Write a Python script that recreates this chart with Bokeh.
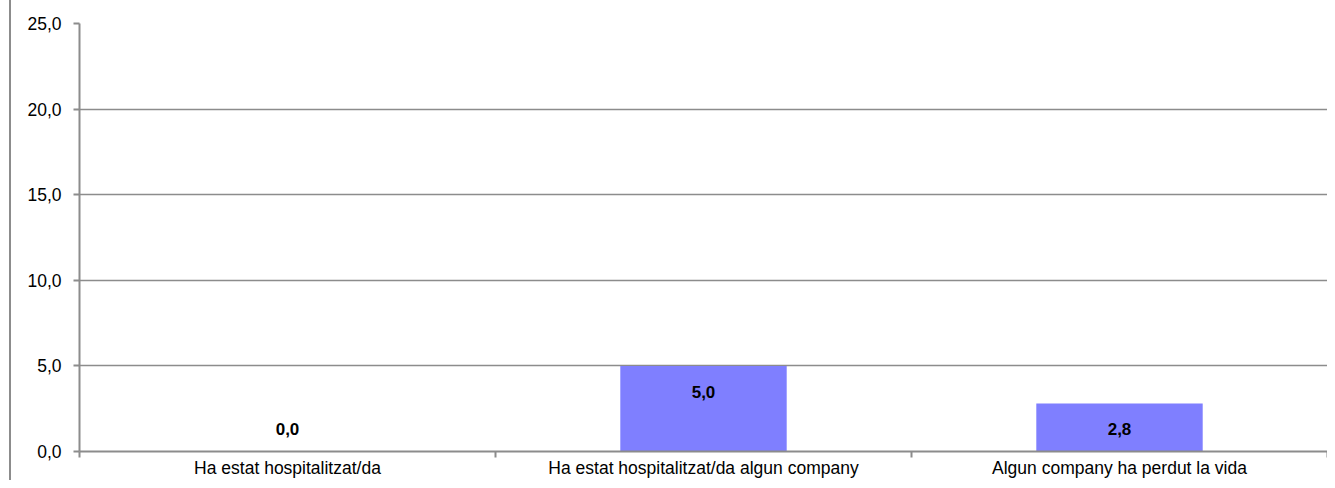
from bokeh.plotting import figure
from bokeh.models import FixedTicker, Range1d, ColumnDataSource
from bokeh.core.properties import value
from bokeh.embed import file_html
from bokeh.resources import INLINE

categories = ["Ha estat hospitalitzat/da",
              "Ha estat hospitalitzat/da algun company",
              "Algun company ha perdut la vida"]
values = [0.0, 5.0, 2.8]
value_labels = ["0,0", "5,0", "2,8"]
y_ticks = [0, 5, 10, 15, 20, 25]
y_tick_labels = ["0,0", "5,0", "10,0", "15,0", "20,0", "25,0"]

FONT = "Liberation Sans"
GRAY = "#8c8c8c"
BAR = "#7f7fff"

x_pos = [i + 0.5 for i in range(len(categories))]
label_y = [max(v, 2.8) - 1.5 for v in values]
src = ColumnDataSource(dict(x=x_pos, top=values, ly=label_y, lab=value_labels))

p = figure(width=1327, height=480, output_backend="svg", toolbar_location=None,
           x_range=Range1d(0, len(categories)), y_range=Range1d(0, 25),
           min_border_left=79, min_border_right=0, min_border_top=23, min_border_bottom=27)
p.outline_line_color = None
p.border_fill_color = None
p.background_fill_color = "white"
p.styles = {"background": "linear-gradient(to right, white 9px, #8c8c8c 9px, #8c8c8c 11px, white 11px)"}

p.vbar(x="x", top="top", width=0.4, bottom=0, source=src, fill_color=BAR, line_color=None)
p.text(x="x", y="ly", text="lab", source=src, text_align="center", text_baseline="middle",
       text_font=value(FONT), text_font_size="17px", text_font_style="bold", text_color="black")

# y axis
ya = p.yaxis[0]
ya.ticker = FixedTicker(ticks=y_ticks, minor_ticks=[])
ya.major_label_overrides = {t: l for t, l in zip(y_ticks, y_tick_labels)}
ya.major_label_text_font = FONT
ya.major_label_text_font_size = "17.5px"
ya.major_label_text_color = "black"
ya.axis_line_color = GRAY
ya.axis_line_width = 2
ya.major_tick_line_color = GRAY
ya.major_tick_line_width = 2
ya.major_tick_out = 6
ya.major_tick_in = 0
ya.minor_tick_line_color = None
ya.major_label_standoff = 12

# x axis
xa = p.xaxis[0]
xa.ticker = FixedTicker(ticks=x_pos, minor_ticks=list(range(len(categories) + 1)))
xa.major_label_overrides = {x: c for x, c in zip(x_pos, categories)}
xa.major_label_text_font = FONT
xa.major_label_text_font_size = "17.5px"
xa.major_label_text_color = "black"
xa.axis_line_color = GRAY
xa.axis_line_width = 2
xa.major_tick_line_color = None
xa.major_tick_out = 0
xa.major_tick_in = 0
xa.minor_tick_line_color = GRAY
xa.minor_tick_line_width = 2
xa.minor_tick_out = 6
xa.minor_tick_in = 0
xa.major_label_standoff = 0
xa.axis_label_standoff = 0

p.xgrid.grid_line_color = None
p.ygrid.ticker = FixedTicker(ticks=y_ticks)
p.ygrid.grid_line_color = GRAY
p.ygrid.grid_line_width = 1.5

open("out.html", "w").write(file_html(p, INLINE))
